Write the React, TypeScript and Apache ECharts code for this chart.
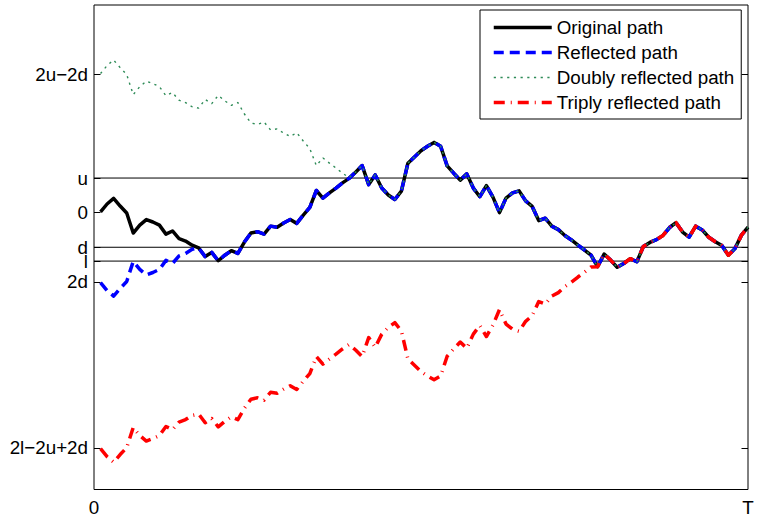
import React, { useEffect, useRef } from 'react';
import * as echarts from 'echarts';

const FONT = '"Liberation Sans", Arial, Helvetica, sans-serif';

// barrier levels (in data units)
const levelU = 1;
const levelD = -1;
const levelL = -1.4;

// y-axis tick positions and labels
const yTickValues = [4, 1, 0, -1, -1.4, -2, -6.8];
const yTickLabels = ['2u\u22122d', 'u', '0', 'd', 'l', '2d', '2l\u22122u+2d'];

// x-axis tick positions and labels
const xTickValues = [0, 1];
const xTickLabels = ['0', 'T'];

// time grid (100 steps of 0.01 up to T = 1)
const times = Array.from({ length: 100 }, (_, k) => (k + 1) / 100);

// original path values
const originalPath = [
  0.02, 0.25, 0.41, 0.19, -0.01, -0.59, -0.36, -0.2, -0.27, -0.36,
  -0.62, -0.53, -0.75, -0.82, -0.94, -1.02, -1.27, -1.15, -1.39, -1.23,
  -1.1, -1.18, -0.85, -0.59, -0.55, -0.62, -0.39, -0.42, -0.3, -0.2,
  -0.31, -0.07, 0.15, 0.64, 0.42, 0.57, 0.71, 0.86, 0.99, 1.17,
  1.36, 0.81, 1.09, 0.71, 0.51, 0.38, 0.62, 1.43, 1.61, 1.79,
  1.92, 2.03, 1.92, 1.35, 1.14, 0.94, 1.12, 0.71, 0.46, 0.78,
  0.45, 0.0, 0.42, 0.57, 0.63, 0.34, 0.18, -0.23, -0.16, -0.39,
  -0.49, -0.66, -0.79, -0.94, -1.08, -1.23, -1.56, -1.2, -1.37, -1.58,
  -1.47, -1.33, -1.42, -0.98, -0.86, -0.78, -0.66, -0.43, -0.29, -0.56,
  -0.71, -0.39, -0.5, -0.71, -0.84, -0.95, -1.23, -1.04, -0.65, -0.42,
];

// mirror a path about a level until it first reaches that level
function reflectUntilHit(path: number[], level: number): number[] {
  const startAbove = path[0] > level;
  let hit = false;
  return path.map((v) => {
    if (!hit && (startAbove ? v <= level : v >= level)) hit = true;
    return hit ? v : 2 * level - v;
  });
}

const reflectedPath = reflectUntilHit(originalPath, levelD);
const doublyReflectedPath = reflectUntilHit(reflectedPath, levelU);
const triplyReflectedPath = reflectUntilHit(doublyReflectedPath, levelL);

const seriesNames = [
  'Original path',
  'Reflected path',
  'Doubly reflected path',
  'Triply reflected path',
];

function pairs(vals: number[]) {
  return vals.map((v, k) => [times[k], v]);
}

export default function App() {
  const ref = useRef<HTMLDivElement>(null);

  useEffect(() => {
    if (!ref.current) return;
    const chart = echarts.init(ref.current, null, { renderer: 'svg' });

    const styles = [
      { color: '#000000', width: 3.5, type: 'solid' as any },
      { color: '#0000ff', width: 3.5, type: [10, 6] as any },
      { color: '#2e8b57', width: 1.4, type: [2.2, 4.5] as any },
      { color: '#ff0000', width: 3.5, type: [11, 6, 1, 6] as any },
    ];
    const paths = [originalPath, reflectedPath, doublyReflectedPath, triplyReflectedPath];

    const levelLine = (name: string, y: number) => ({
      name,
      type: 'line',
      data: [
        [xTickValues[0], y],
        [xTickValues[1], y],
      ],
      symbol: 'none',
      silent: true,
      lineStyle: { color: '#000', width: 1 },
      z: 1,
    });

    const yLabelFor = (v: number) => {
      const idx = yTickValues.findIndex((t) => Math.abs(t - v) < 1e-6);
      return idx >= 0 ? yTickLabels[idx] : '';
    };

    const yAxisBase = {
      type: 'value',
      min: -8,
      max: 6,
      axisLine: { show: false },
      splitLine: { show: false },
      axisTick: {
        show: true,
        inside: true,
        length: 6.5,
        customValues: yTickValues,
        lineStyle: { color: '#000', width: 1 },
      },
    };

    chart.setOption({
      animation: false,
      backgroundColor: '#ffffff',
      textStyle: { fontFamily: FONT },
      grid: {
        left: 94,
        right: 9,
        top: 5,
        bottom: 27.5,
        show: true,
        borderColor: '#000',
        borderWidth: 1,
        backgroundColor: 'transparent',
      },
      xAxis: {
        type: 'value',
        min: 0,
        max: 1,
        interval: 1,
        axisLine: { show: false },
        splitLine: { show: false },
        axisTick: { show: false },
        axisLabel: {
          margin: 8,
          fontSize: 18.8,
          color: '#000',
          fontFamily: FONT,
          showMinLabel: true,
          showMaxLabel: true,
          formatter: (v: number) => {
            const idx = xTickValues.findIndex((t) => Math.abs(t - v) < 1e-6);
            return idx >= 0 ? xTickLabels[idx] : '';
          },
        },
      },
      yAxis: [
        {
          ...yAxisBase,
          position: 'left',
          axisLabel: {
            customValues: yTickValues,
            formatter: yLabelFor,
            fontSize: 18.8,
            color: '#000',
            fontFamily: FONT,
            margin: 6,
          },
        },
        {
          ...yAxisBase,
          position: 'right',
          axisLabel: { show: false },
        },
      ],
      legend: {
        orient: 'vertical',
        left: 480,
        top: 10,
        padding: [8, 7, 7, 12],
        itemGap: 6,
        itemWidth: 58,
        itemHeight: 14,
        backgroundColor: '#ffffff',
        borderColor: '#000',
        borderWidth: 1,
        borderRadius: 0,
        selectedMode: false,
        textStyle: { fontSize: 18.8, color: '#000', fontFamily: FONT, padding: [0, 0, 0, 0] },
        lineStyle: { width: 'inherit', type: 'inherit' },
        itemStyle: { color: 'rgba(0,0,0,0)', borderWidth: 0, opacity: 0 },
        data: seriesNames.map((n, k) => ({
          name: n,
          itemStyle: { color: 'rgba(0,0,0,0)', borderWidth: 0, opacity: 0 },
          lineStyle: {
            width: styles[k].width,
            type: styles[k].type,
            color: styles[k].color,
            opacity: 1,
          },
        })),
      },
      series: [
        levelLine('levelU', levelU),
        levelLine('levelD', levelD),
        levelLine('levelL', levelL),
        ...paths.map((p, k) => ({
          name: seriesNames[k],
          type: 'line',
          data: pairs(p),
          symbol: 'none',
          showSymbol: false,
          silent: true,
          color: styles[k].color,
          lineStyle: { ...styles[k], cap: 'butt', join: 'round' },
          z: 2 + k,
        })),
      ],
    });

    return () => chart.dispose();
  }, []);

  return (
    <div
      ref={ref}
      style={{ position: 'fixed', left: 0, top: 0, width: 757, height: 517, background: '#fff' }}
    />
  );
}
